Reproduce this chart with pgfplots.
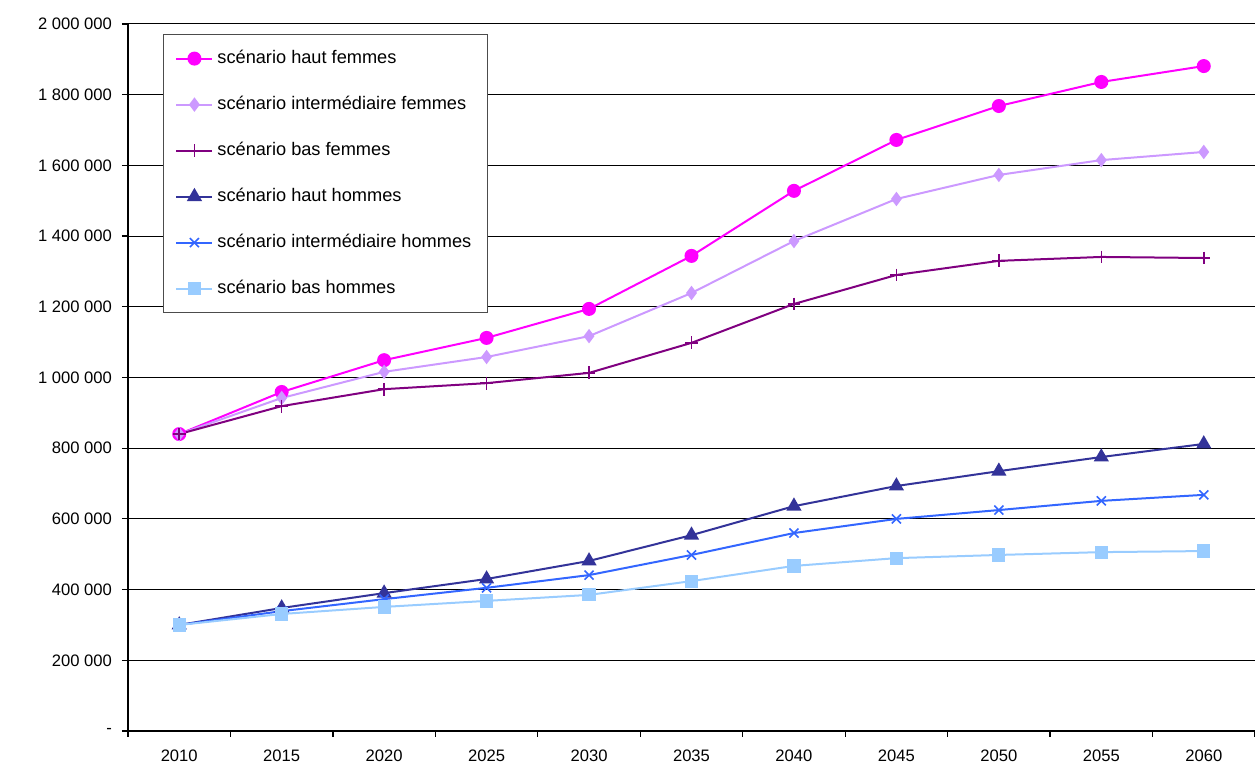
\documentclass[border=0pt]{standalone}
\usepackage{pgfplots}
\pgfplotsset{compat=1.18}
\usepackage{fontspec}
\setmainfont{Liberation Sans}
\definecolor{cHF}{HTML}{FF00FF}
\definecolor{cIF}{HTML}{CC99FF}
\definecolor{cBF}{HTML}{800080}
\definecolor{cHH}{HTML}{333399}
\definecolor{cIH}{HTML}{3366FF}
\definecolor{cBH}{HTML}{99CCFF}
\begin{document}
\begin{tikzpicture}
\path[use as bounding box] (-64pt,-17pt) rectangle (563.5pt,365.5pt);
\begin{axis}[
  at={(0,0)}, anchor=south west,
  scale only axis, width=563.5pt, height=353.5pt,
  xmin=-0.5, xmax=10.5, ymin=0, ymax=2000000,
  scaled y ticks=false,
  axis x line*=bottom, axis y line*=left,
  axis line style={line width=0.8pt, -},
  xtick={0,...,10},
  xticklabels={2010,2015,2020,2025,2030,2035,2040,2045,2050,2055,2060},
  minor xtick={-0.5,0.5,...,10.5},
  major x tick style={draw=none},
  minor x tick style={black, line width=0.6pt},
  minor tick length=3pt,
  ytick={0,200000,...,2000000},
  yticklabels={-,200 000,400 000,600 000,800 000,1 000 000,1 200 000,1 400 000,1 600 000,1 800 000,2 000 000},
  major y tick style={black, line width=0.6pt},
  major tick length=3pt,
  tick align=outside,
  ymajorgrids, grid style={black, line width=0.5pt},
  tick label style={font=\fontsize{8.3}{10}\selectfont},
  yticklabel style={xshift=-1.5pt},
  xticklabel style={yshift=-3pt},
  legend style={at={(0.031,0.986)}, anchor=north west, draw=black!70, line width=0.5pt,
    font=\fontsize{9.1}{11}\selectfont, row sep=10.8pt, inner xsep=6pt, inner ysep=6pt},
  legend cell align=left,
  legend image code/.code={\draw[mark repeat=2,mark phase=2] plot coordinates {(0pt,0pt)(9pt,0pt)(18pt,0pt)};},
]
\addplot[cHF, line width=1pt, mark=*, mark size=3pt, mark options={solid}] coordinates {
(0,840000)(1,959000)(2,1049000)(3,1112000)(4,1194000)(5,1344000)(6,1528000)(7,1672000)(8,1768000)(9,1836000)(10,1881000)};
\addlegendentry{scénario haut femmes}
\addplot[cIF, line width=1pt, mark=diamond*, mark size=2.8pt] coordinates {
(0,840000)(1,942000)(2,1016000)(3,1058000)(4,1117000)(5,1239000)(6,1386000)(7,1505000)(8,1573000)(9,1615000)(10,1638000)};
\addlegendentry{scénario intermédiaire femmes}
\addplot[cBF, line width=1pt, mark=+, mark size=3.2pt, mark options={line width=0.8pt}] coordinates {
(0,840000)(1,919000)(2,967000)(3,984000)(4,1013000)(5,1098000)(6,1208000)(7,1290000)(8,1330000)(9,1341000)(10,1338000)};
\addlegendentry{scénario bas femmes}
\addplot[cHH, line width=1pt, mark=triangle*, mark size=3.4pt] coordinates {
(0,300000)(1,348000)(2,390000)(3,430000)(4,481000)(5,554000)(6,636000)(7,693000)(8,735000)(9,775000)(10,812000)};
\addlegendentry{scénario haut hommes}
\addplot[cIH, line width=1pt, mark=x, mark size=3.2pt, mark options={line width=0.8pt}] coordinates {
(0,300000)(1,339000)(2,373000)(3,405000)(4,441000)(5,498000)(6,560000)(7,600000)(8,625000)(9,651000)(10,668000)};
\addlegendentry{scénario intermédiaire hommes}
\addplot[cBH, line width=1pt, mark=square*, mark size=2.8pt] coordinates {
(0,300000)(1,331000)(2,351000)(3,368000)(4,385000)(5,424000)(6,467000)(7,489000)(8,498000)(9,506000)(10,509000)};
\addlegendentry{scénario bas hommes}
\end{axis}
\end{tikzpicture}
\end{document}
